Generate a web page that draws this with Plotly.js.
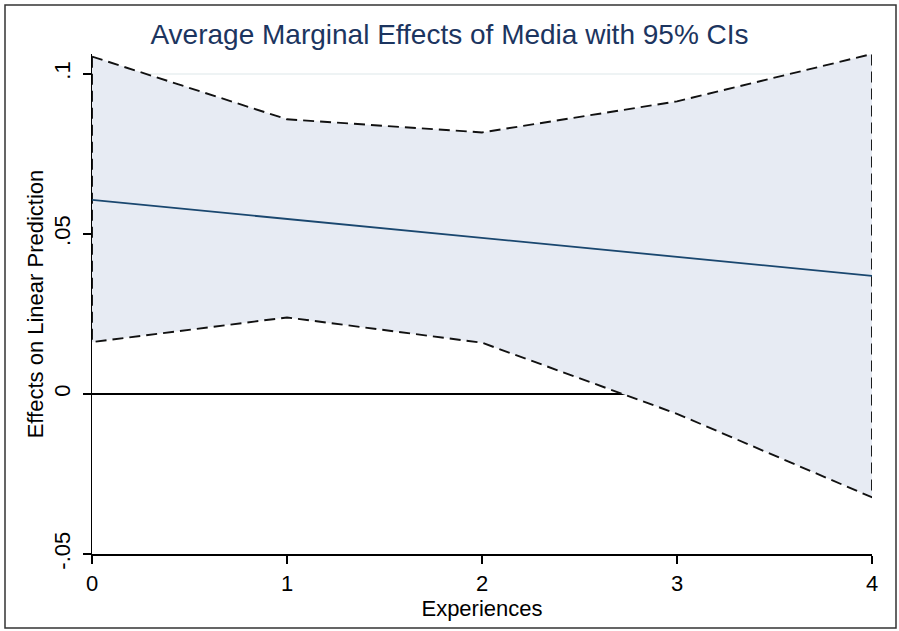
<!DOCTYPE html>
<html>
<head>
<meta charset="utf-8">
<script src="https://cdn.plot.ly/plotly-3.0.1.min.js"></script>
<style>
html,body{margin:0;padding:0;background:#fff;}
#chart{width:899px;height:631px;}
</style>
</head>
<body>
<div id="chart"></div>
<script>
// Data
const experiences = [0, 1, 2, 3, 4];
const marginalEffect = [0.0606, 0.0547, 0.0488, 0.0428, 0.0369];
const ciUpper = [0.1054, 0.0858, 0.0817, 0.0914, 0.1062];
const ciLower = [0.0162, 0.0239, 0.0160, -0.0062, -0.0323];
const yTickVals = [-0.05, 0, 0.05, 0.1];
const yTickText = ['-.05', '0', '.05', '.1'];
const xTickVals = [0, 1, 2, 3, 4];
const xTickText = ['0', '1', '2', '3', '4'];

// closed CI polygon (upper forward, lower backward)
const polyX = experiences.concat(experiences.slice().reverse(), [experiences[0]]);
const polyY = ciUpper.concat(ciLower.slice().reverse(), [ciUpper[0]]);

const FONT = 'Liberation Sans, Arial, Helvetica, sans-serif';

const traces = [
  {
    x: polyX, y: polyY, type: 'scatter', mode: 'lines',
    fill: 'toself', fillcolor: '#e7ebf3',
    line: {color: '#111', width: 1.9, dash: '11px,6px'},
    hoverinfo: 'skip', showlegend: false
  },
  {
    x: experiences, y: marginalEffect, type: 'scatter', mode: 'lines',
    line: {color: '#1a476f', width: 1.8},
    showlegend: false
  }
];

const layout = {
  width: 899, height: 631,
  margin: {l: 92, r: 27, t: 54, b: 77},
  paper_bgcolor: '#ffffff', plot_bgcolor: '#ffffff',
  font: {family: FONT, color: '#000'},
  showlegend: false,
  title: {
    text: 'Average Marginal Effects of Media with 95% CIs',
    font: {family: FONT, size: 28, color: '#1c3560'},
    x: 0.5, xref: 'container', xanchor: 'center',
    y: 1 - 34 / 631, yref: 'container', yanchor: 'middle'
  },
  xaxis: {
    range: [0, 4], fixedrange: true,
    tickmode: 'array', tickvals: xTickVals, ticktext: xTickText,
    ticks: 'outside', ticklen: 8, tickwidth: 1.5, tickcolor: '#000',
    tickfont: {family: FONT, size: 22, color: '#000'},
    ticklabelstandoff: 1,
    showline: true, linecolor: '#000', linewidth: 1.5,
    showgrid: false, zeroline: false,
    title: {text: 'Experiences', font: {family: FONT, size: 22, color: '#000'}, standoff: 0}
  },
  yaxis: {
    range: [-0.05, 0.1062], fixedrange: true,
    tickmode: 'array', tickvals: yTickVals, ticktext: yTickText,
    tickangle: -90,
    ticks: 'outside', ticklen: 8, tickwidth: 1.5, tickcolor: '#000',
    tickfont: {family: FONT, size: 22, color: '#000'},
    ticklabelstandoff: 4,
    showline: true, linecolor: '#000', linewidth: 1.5,
    showgrid: true, gridcolor: '#eef3f4', gridwidth: 1.5,
    zeroline: true, zerolinecolor: '#000', zerolinewidth: 1.6,
    title: {text: 'Effects on Linear Prediction', font: {family: FONT, size: 22, color: '#000'}, standoff: 0}
  },
  shapes: [
    {type: 'rect', xref: 'paper', yref: 'paper',
     x0: (5 - 92) / 780, x1: (896 - 92) / 780,
     y0: (554 - 628) / 500, y1: (554 - 5) / 500,
     line: {color: '#333', width: 1.5}, fillcolor: 'rgba(0,0,0,0)', layer: 'below'}
  ]
};

Plotly.newPlot('chart', traces, layout, {displayModeBar: false, staticPlot: true});
</script>
</body>
</html>
